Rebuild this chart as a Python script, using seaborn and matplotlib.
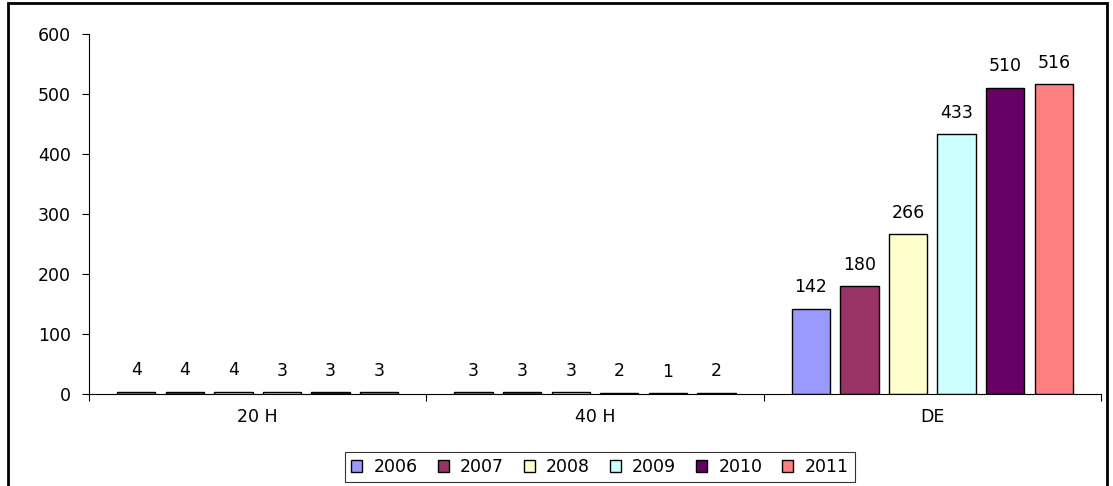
import matplotlib
matplotlib.use("Agg")
import matplotlib.pyplot as plt
import matplotlib.patches as mpatches
import seaborn as sns
import pandas as pd

categories = ["20 H", "40 H", "DE"]
years = ["2006", "2007", "2008", "2009", "2010", "2011"]
v2006 = [4, 3, 142]
v2007 = [4, 3, 180]
v2008 = [4, 3, 266]
v2009 = [3, 2, 433]
v2010 = [3, 1, 510]
v2011 = [3, 2, 516]
colors = ["#9999FF", "#993366", "#FFFFCC", "#CCFFFF", "#660066", "#FF8080"]

series = [v2006, v2007, v2008, v2009, v2010, v2011]
rows = []
for y, vals in zip(years, series):
    for c, v in zip(categories, vals):
        rows.append({"cat": c, "year": y, "value": v})
df = pd.DataFrame(rows)

sns.set_theme(style="white")
plt.rcParams["font.family"] = ["DejaVu Sans"]
plt.rcParams["text.color"] = "black"
plt.rcParams["xtick.color"] = "black"
plt.rcParams["ytick.color"] = "black"
plt.rcParams["axes.labelcolor"] = "black"
FS = 12.5

fig = plt.figure(figsize=(11.13, 4.86), dpi=100)
ax = fig.add_axes([89/1113, 1-394/486, (1101-89)/1113, (394-34)/486])

sns.barplot(data=df, x="cat", y="value", hue="year", order=categories,
            hue_order=years, palette=colors, width=0.864, gap=0.21,
            edgecolor="black", linewidth=1, saturation=1, ax=ax, legend=True)

for cont in ax.containers:
    ax.bar_label(cont, padding=9, fontsize=FS, color="black")

ax.set_ylim(0, 600)
ax.set_xlim(-0.5, 2.5)
ax.set_yticks(range(0, 601, 100))
ax.set_xlabel("")
ax.set_ylabel("")
for s in ["top", "right"]:
    ax.spines[s].set_visible(False)
for s in ["left", "bottom"]:
    ax.spines[s].set_color("black")
    ax.spines[s].set_linewidth(0.8)
ax.tick_params(axis="y", direction="out", length=5, width=0.8, color="black",
               labelcolor="black", left=True, labelsize=FS, pad=8)
ax.tick_params(axis="x", which="major", length=0, labelsize=FS, pad=10,
               labelcolor="black")
ax.set_xticks([-0.5, 0.5, 1.5, 2.5], minor=True)
ax.tick_params(axis="x", which="minor", direction="out", length=5, width=0.8,
               color="black", bottom=True)

handles, labels = ax.get_legend_handles_labels()
ax.legend_.remove()
leg = fig.legend(handles, labels, loc="center", bbox_to_anchor=(600/1113, 1-467/486),
                 ncol=6, fontsize=FS, frameon=True, fancybox=False,
                 handlelength=0.63, handleheight=0.63, handletextpad=0.65,
                 columnspacing=1.15, borderpad=0.35, borderaxespad=0,
                 labelcolor="black")
leg.get_frame().set_edgecolor("black")
leg.get_frame().set_linewidth(0.8)

frame = mpatches.Rectangle((8/1113, -0.05), (1107-8)/1113, 1.05 - 3/486,
                           transform=fig.transFigure, fill=False,
                           edgecolor="black", linewidth=2, clip_on=False)
fig.patches.append(frame)

fig.savefig("out.png", dpi=100, facecolor="white")
